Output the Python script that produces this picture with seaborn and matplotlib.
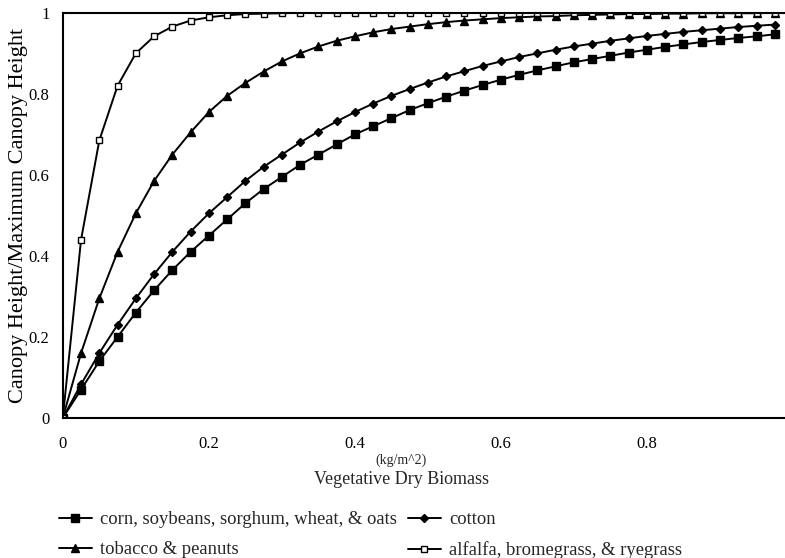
import numpy as np
import pandas as pd
import matplotlib
matplotlib.use("Agg")
import matplotlib.pyplot as plt
import seaborn as sns

biomass = [0.0, 0.025, 0.05, 0.075, 0.1, 0.125, 0.15, 0.175, 0.2, 0.225, 0.25, 0.275,
           0.3, 0.325, 0.35, 0.375, 0.4, 0.425, 0.45, 0.475, 0.5, 0.525, 0.55, 0.575,
           0.6, 0.625, 0.65, 0.675, 0.7, 0.725, 0.75, 0.775, 0.8, 0.825, 0.85, 0.875,
           0.9, 0.925, 0.95, 0.975]

corn = [0.0, 0.07, 0.14, 0.2, 0.26, 0.315, 0.365, 0.41, 0.45, 0.49, 0.53, 0.565,
        0.595, 0.625, 0.65, 0.675, 0.7, 0.72, 0.74, 0.76, 0.777, 0.793, 0.808, 0.822,
        0.835, 0.847, 0.858, 0.868, 0.878, 0.886, 0.894, 0.902, 0.909, 0.916, 0.922, 0.928,
        0.933, 0.938, 0.942, 0.947]

cotton = [0.0, 0.083, 0.16, 0.23, 0.295, 0.355, 0.41, 0.46, 0.505, 0.545, 0.585, 0.62,
          0.65, 0.68, 0.707, 0.732, 0.755, 0.776, 0.795, 0.812, 0.828, 0.843, 0.856, 0.869,
          0.88, 0.891, 0.9, 0.909, 0.917, 0.924, 0.931, 0.937, 0.943, 0.948, 0.953, 0.957,
          0.961, 0.965, 0.968, 0.971]

tobacco = [0.0, 0.16, 0.295, 0.41, 0.505, 0.585, 0.65, 0.705, 0.755, 0.795, 0.827, 0.855,
           0.88, 0.9, 0.917, 0.931, 0.942, 0.952, 0.96, 0.966, 0.972, 0.977, 0.981, 0.984,
           0.987, 0.989, 0.991, 0.992, 0.994, 0.995, 0.996, 0.997, 0.997, 0.998, 0.998, 0.999,
           0.999, 0.999, 0.999, 1.0]

alfalfa = [0.0, 0.44, 0.685, 0.82, 0.9, 0.942, 0.966, 0.981, 0.989, 0.994, 0.997, 0.998,
           0.999, 1.0, 1.0, 1.0, 1.0, 1.0, 1.0, 1.0, 1.0, 1.0, 1.0, 1.0,
           1.0, 1.0, 1.0, 1.0, 1.0, 1.0, 1.0, 1.0, 1.0, 1.0, 1.0, 1.0,
           1.0, 1.0, 1.0, 1.0]

labels = ["corn, soybeans, sorghum, wheat, & oats", "cotton",
          "tobacco & peanuts", "alfalfa, bromegrass, & ryegrass"]

sns.set_theme(style="white")
plt.rcParams['font.family'] = ['Liberation Serif', 'DejaVu Serif']

fig = plt.figure(figsize=(7.85, 5.58), dpi=100)
ax = fig.add_axes([0.080, 0.251, 0.92, 0.726])

series = [
    (labels[0], corn, dict(marker='s', markersize=6, markerfacecolor='black')),
    (labels[2], tobacco, dict(marker='^', markersize=6, markerfacecolor='black')),
    (labels[1], cotton, dict(marker='D', markersize=4.5, markerfacecolor='black')),
    (labels[3], alfalfa, dict(marker='s', markersize=5, markerfacecolor='white')),
]
for name, vals, kw in series:
    df = pd.DataFrame({"x": biomass, "y": vals})
    sns.lineplot(data=df, x="x", y="y", ax=ax, color='black', linewidth=1.4,
                 markeredgecolor='black', markeredgewidth=1.0, label=name, **kw)

ax.set_xlim(0, 0.989)
ax.set_ylim(0, 1)
ax.set_xticks([0, 0.2, 0.4, 0.6, 0.8])
ax.set_xticklabels(["0", "0.2", "0.4", "0.6", "0.8"])
ax.set_yticks([0, 0.2, 0.4, 0.6, 0.8, 1])
ax.set_yticklabels(["0", "0.2", "0.4", "0.6", "0.8", "1"])
ax.tick_params(direction='in', length=8, width=1.2, colors='black', labelsize=12)
ax.tick_params(axis='x', pad=13)
ax.tick_params(axis='y', pad=9.5)
for s in ['left', 'bottom', 'top']:
    ax.spines[s].set_color('black')
    ax.spines[s].set_linewidth(1.5)
ax.spines['right'].set_visible(False)
ax.set_xlabel("")
ax.set_ylabel("Canopy Height/Maximum Canopy Height", fontsize=16, color='black')
ax.yaxis.set_label_coords(-0.0485, 0.5)

fig.text(401 / 785, 1 - 460 / 558, "(kg/m^2)", ha='center', va='center', fontsize=10)
fig.text(402 / 785, 1 - 480 / 558, "Vegetative Dry Biomass", ha='center', va='center', fontsize=13)

ax.get_legend().remove()
h, l = ax.get_legend_handles_labels()
fig.legend(h, l, ncol=2, loc='upper left', bbox_to_anchor=(59 / 785, 1 - 511 / 558),
           frameon=False, fontsize=13.4, handlelength=1.75, handletextpad=0.45,
           columnspacing=0.6, labelspacing=0.72, borderaxespad=0, borderpad=0)

fig.savefig("out.png", dpi=100)
